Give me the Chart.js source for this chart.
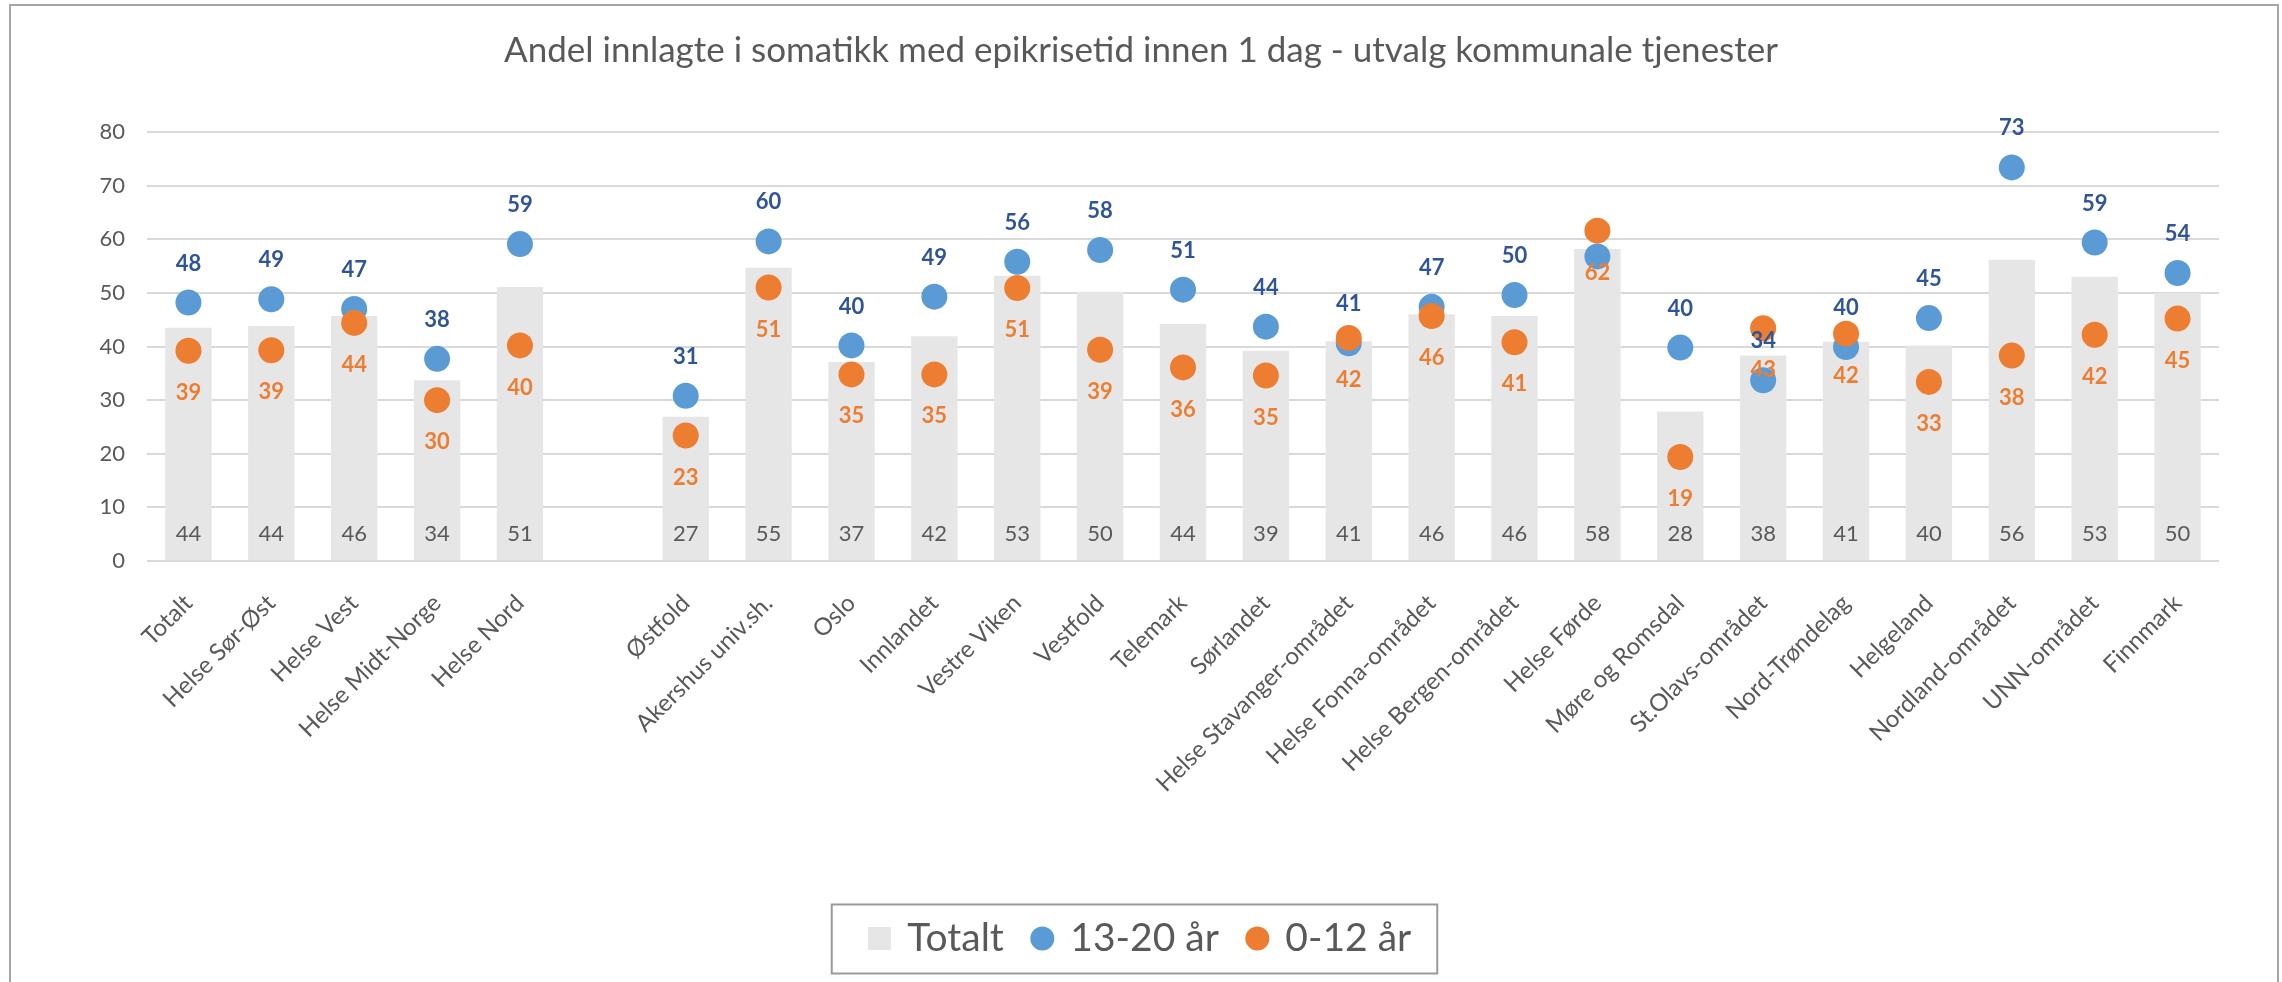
<!DOCTYPE html>
<html>
<head>
<meta charset="utf-8">
<script src="https://cdn.jsdelivr.net/npm/chart.js@4.4.0/dist/chart.umd.min.js"></script>
<style>
  html, body { margin: 0; padding: 0; background: #fff; }
  canvas { display: block; }
</style>
</head>
<body>
<canvas id="chart" width="2282" height="982"></canvas>
<script>
// kategorier (tom plass mellom regionene og helseforetakene)
const categories = ["Totalt", "Helse Sør-Øst", "Helse Vest", "Helse Midt-Norge", "Helse Nord", "",
  "Østfold", "Akershus univ.sh.", "Oslo", "Innlandet", "Vestre Viken", "Vestfold", "Telemark",
  "Sørlandet", "Helse Stavanger-området", "Helse Fonna-området", "Helse Bergen-området",
  "Helse Førde", "Møre og Romsdal", "St.Olavs-området", "Nord-Trøndelag", "Helgeland",
  "Nordland-området", "UNN-området", "Finnmark"];

const totalt = [43.5, 43.8, 45.7, 33.7, 51.1, null, 26.9, 54.7, 37.1, 41.9, 53.2, 50.2, 44.2,
  39.2, 41.0, 46.0, 45.7, 58.2, 27.9, 38.3, 40.9, 40.2, 56.2, 53.0, 50.0];
const ungdom = [48.2, 48.8, 47.0, 37.7, 59.1, null, 30.8, 59.6, 40.2, 49.3, 55.8, 58.0, 50.6,
  43.7, 40.6, 47.4, 49.6, 56.8, 39.8, 33.7, 39.9, 45.3, 73.4, 59.4, 53.7];
const barn = [39.2, 39.3, 44.4, 30.0, 40.2, null, 23.4, 51.0, 34.8, 34.8, 50.9, 39.4, 36.1,
  34.6, 41.6, 45.7, 40.8, 61.6, 19.4, 43.4, 42.4, 33.4, 38.3, 42.2, 45.2];

// etiketter som ikke vises i originalen
const skjulteUngdomEtiketter = ["Helse Førde"];

const yMin = 0, yMax = 80, yStep = 10;

const grey = "#595959";
const barColor = "#E7E6E6";
const blue = "#5B9BD5";
const blueText = "#2F5597";
const orange = "#ED7D31";

Chart.defaults.font.family = "Lato";
Chart.defaults.color = grey;

// lite kvadrat til legenden
const legendSquare = document.createElement("canvas");
legendSquare.width = 23;
legendSquare.height = 23;
const sq = legendSquare.getContext("2d");
sq.fillStyle = barColor;
sq.fillRect(0, 0, 23, 23);

const frame = {
  id: "frame",
  beforeDraw(chart) {
    const ctx = chart.ctx;
    ctx.save();
    ctx.fillStyle = "#fff";
    ctx.fillRect(0, 0, chart.width, chart.height);
    ctx.strokeStyle = "#A6A6A6";
    ctx.lineWidth = 2;
    ctx.strokeRect(10, 5, chart.width - 14, chart.height + 20);
    ctx.restore();
  },
  afterDraw(chart) {
    const boxes = chart.legend.legendHitBoxes;
    if (!boxes || !boxes.length) return;
    const left = Math.min(...boxes.map(b => b.left)) - 39;
    const right = Math.max(...boxes.map(b => b.left + b.width)) + 26;
    const mid = boxes[0].top + boxes[0].height / 2;
    const ctx = chart.ctx;
    ctx.save();
    ctx.strokeStyle = "#9A9A9A";
    ctx.lineWidth = 2;
    ctx.strokeRect(left, mid - 34, right - left, 69);
    ctx.restore();
  }
};

const valueLabels = {
  id: "valueLabels",
  afterDatasetsDraw(chart) {
    const ctx = chart.ctx;
    ctx.save();
    ctx.textAlign = "center";
    ctx.textBaseline = "middle";

    ctx.font = "22px Lato";
    ctx.fillStyle = grey;
    chart.getDatasetMeta(0).data.forEach((bar, i) => {
      if (totalt[i] == null) return;
      ctx.fillText(Math.round(totalt[i]), bar.x, bar.base - 26);
    });

    ctx.font = "bold 22px Lato";
    ctx.fillStyle = blueText;
    chart.getDatasetMeta(1).data.forEach((pt, i) => {
      if (ungdom[i] == null || skjulteUngdomEtiketter.includes(categories[i])) return;
      ctx.fillText(Math.round(ungdom[i]), pt.x, pt.y - 39);
    });

    ctx.fillStyle = orange;
    chart.getDatasetMeta(2).data.forEach((pt, i) => {
      if (barn[i] == null) return;
      ctx.fillText(Math.round(barn[i]), pt.x, pt.y + 42);
    });
    ctx.restore();
  }
};

const ctx = document.getElementById("chart").getContext("2d");
new Chart(ctx, {
  type: "bar",
  data: {
    labels: categories,
    datasets: [
      {
        label: "Totalt",
        data: totalt,
        backgroundColor: barColor,
        barPercentage: 0.56,
        categoryPercentage: 1,
        order: 2
      },
      {
        type: "line",
        label: "13-20 år",
        data: ungdom,
        showLine: false,
        pointRadius: 13,
        pointHoverRadius: 13,
        pointBackgroundColor: blue,
        pointBorderColor: blue,
        pointBorderWidth: 0,
        backgroundColor: blue,
        borderColor: blue,
        order: 1
      },
      {
        type: "line",
        label: "0-12 år",
        data: barn,
        showLine: false,
        pointRadius: 13,
        pointHoverRadius: 13,
        pointBackgroundColor: orange,
        pointBorderColor: orange,
        pointBorderWidth: 0,
        backgroundColor: orange,
        borderColor: orange,
        order: 0
      }
    ]
  },
  options: {
    responsive: false,
    animation: false,
    devicePixelRatio: 1,
    layout: { padding: { left: 0, right: 0, top: 0, bottom: 14 } },
    plugins: {
      title: {
        display: true,
        text: "Andel innlagte i somatikk med epikrisetid innen 1 dag - utvalg kommunale tjenester",
        font: { size: 35, weight: "normal" },
        color: grey,
        padding: { top: 30, bottom: 60 }
      },
      legend: {
        position: "bottom",
        labels: {
          usePointStyle: true,
          boxWidth: 17,
          boxHeight: 17,
          padding: 30,
          color: grey,
          font: { size: 39 },
          sort: (a, b) => a.datasetIndex - b.datasetIndex,
          generateLabels(chart) {
            const items = Chart.defaults.plugins.legend.labels.generateLabels(chart);
            items.forEach(it => {
              if (it.datasetIndex === 0) it.pointStyle = legendSquare;
              it.lineWidth = 0;
            });
            return items;
          }
        }
      },
      tooltip: { enabled: false }
    },
    scales: {
      x: {
        offset: true,
        grid: { display: false },
        border: { display: false },
        ticks: {
          autoSkip: false,
          minRotation: 45,
          maxRotation: 45,
          padding: 20,
          color: grey,
          font: { size: 24 }
        },
        afterFit(scale) { scale.height = 328; }
      },
      y: {
        min: yMin,
        max: yMax,
        grid: { color: "#D9D9D9", lineWidth: 2, drawTicks: false },
        border: { display: false },
        ticks: { stepSize: yStep, padding: 22, color: grey, font: { size: 22 } },
        afterFit(scale) { scale.width = 147; }
      },
      yRight: {
        position: "right",
        min: yMin,
        max: yMax,
        grid: { display: false },
        border: { display: false },
        ticks: { display: false },
        afterFit(scale) { scale.width = 63; }
      }
    }
  },
  plugins: [frame, valueLabels]
});
</script>
</body>
</html>
